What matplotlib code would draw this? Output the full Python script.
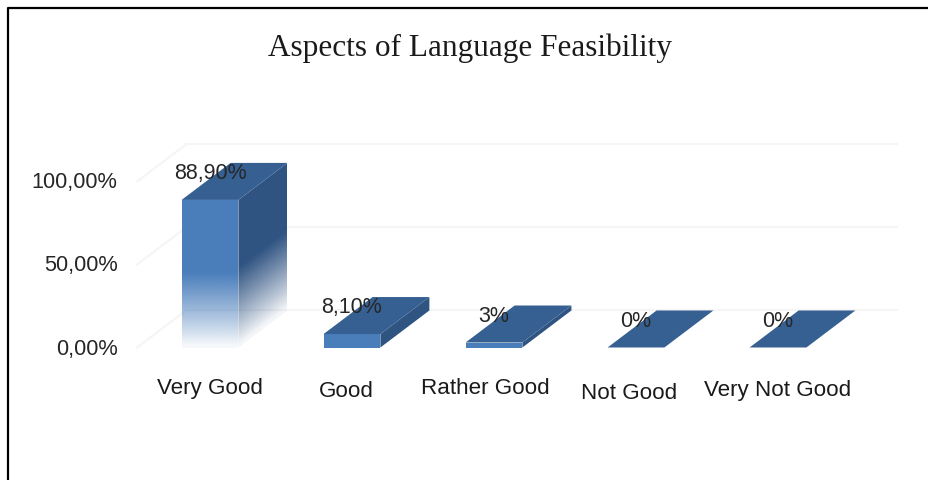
import numpy as np
import matplotlib
matplotlib.use("Agg")
import matplotlib.pyplot as plt
from matplotlib.colors import to_rgb
from matplotlib.lines import Line2D
from matplotlib.patches import Polygon
from matplotlib.transforms import ScaledTranslation

#Data
categories = ['Very Good', 'Good', 'Rather Good', 'Not Good', 'Very Not Good']
values = [88.9, 8.1, 3, 0, 0]
value_labels = ['88,90%', '8,10%', '3%', '0%', '0%']
y_ticks = [0, 50, 100]
y_tick_labels = ['0,00%', '50,00%', '100,00%']
title = 'Aspects of Language Feasibility'

#Style
front_color = '#4a7ebb'
top_color = '#366092'
side_color = '#305482'
grid_color = '#f5f5f5'
text_color = '#262626'
bar_width = 0.40
depth_x = 0.345  #3d offset in category units
depth_y = 22.3   #3d offset in percent units
label_shift = [0, -0.04, -0.06, -0.05, 0]
label_pad = [21.5, 23.5, 21.5, 24.5, 22.5]
W, H = 929, 481


def gradient_patch(ax, poly, fade_slope, fade_top, color):
    #RGBA image fading to transparent near the floor, clipped to a face
    poly = np.array(poly)
    x0, x1 = poly[:, 0].min(), poly[:, 0].max()
    y0, y1 = poly[:, 1].min(), poly[:, 1].max()
    xx, yy = np.meshgrid(np.linspace(x0, x1, 80), np.linspace(y1, y0, 300))
    height = yy - fade_slope * (xx - x0)
    alpha = np.clip(height / fade_top, 0.04, 1) ** 0.9
    img = np.zeros(xx.shape + (4,))
    img[..., :3] = to_rgb(color)
    img[..., 3] = alpha
    im = ax.imshow(img, extent=(x0, x1, y0, y1), aspect='auto', zorder=3, interpolation='bilinear')
    clip = Polygon(poly, closed=True, transform=ax.transData, facecolor='none', edgecolor='none')
    ax.add_patch(clip)
    im.set_clip_path(clip)


fig = plt.figure(figsize=(W / 100, H / 100), dpi=100, facecolor='white')
ax = fig.add_axes([137 / W, 1 - 348.5 / H, (898 - 137) / W, 207.5 / H])
xlim = (-0.514, 4.845)
ylim = (0, 125)

#Back wall and side wall grid
for v in y_ticks:
    ax.plot([xlim[0] + depth_x, xlim[1]], [v + depth_y, v + depth_y], color=grid_color, lw=1.5, zorder=1)
    ax.plot([xlim[0], xlim[0] + depth_x], [v, v + depth_y], color=grid_color, lw=1.5, zorder=1, clip_on=False)

#Bars
for i, v in enumerate(values):
    l = i - bar_width / 2
    r = i + bar_width / 2
    front = [(l, 0), (r, 0), (r, v), (l, v)]
    side = [(r, 0), (r + depth_x, depth_y), (r + depth_x, v + depth_y), (r, v)]
    top = [(l, v), (r, v), (r + depth_x, v + depth_y), (l + depth_x, v + depth_y)]
    if v > 50:
        gradient_patch(ax, front, 0, 45, front_color)
        gradient_patch(ax, side, depth_y / depth_x, 48, side_color)
    else:
        ax.add_patch(Polygon(front, facecolor=front_color, edgecolor='none', zorder=3, clip_on=False))
        ax.add_patch(Polygon(side, facecolor=side_color, edgecolor='none', zorder=3))
    ax.add_patch(Polygon(top, facecolor=top_color, edgecolor='none', zorder=4))
    ax.text(i, v + 16.5, value_labels[i], ha='center', va='center', fontsize=15.5,
            family='Liberation Sans', color=text_color, zorder=5)

ax.set_xlim(xlim)
ax.set_ylim(ylim)
for s in ax.spines.values():
    s.set_visible(False)
ax.patch.set_visible(False)

ax.set_yticks(y_ticks, y_tick_labels, fontsize=15.7, family='Liberation Sans', color=text_color)
ax.tick_params(axis='y', length=0, pad=14)
for lab in ax.get_yticklabels():
    lab.set_transform(lab.get_transform() + ScaledTranslation(0, 2 / 100, fig.dpi_scale_trans))
ax.set_xticks([i + s for i, s in enumerate(label_shift)], categories, fontsize=16.1,
              family='Liberation Sans', color='#1a1a1a')
ax.tick_params(axis='x', length=0)
for tick, pad in zip(ax.xaxis.get_major_ticks(), label_pad):
    tick.set_pad(pad)

fig.text(470 / W, 1 - 48 / H, title, ha='center', va='center', fontsize=22.5,
         family='Liberation Serif', color='#1a1a1a')

#Picture frame, only left and top show
fig.add_artist(Line2D([8 / W, 8 / W, 1], [0, 1 - 9 / H, 1 - 9 / H], color='black', lw=1.6))

fig.savefig('out.png', dpi=100)
